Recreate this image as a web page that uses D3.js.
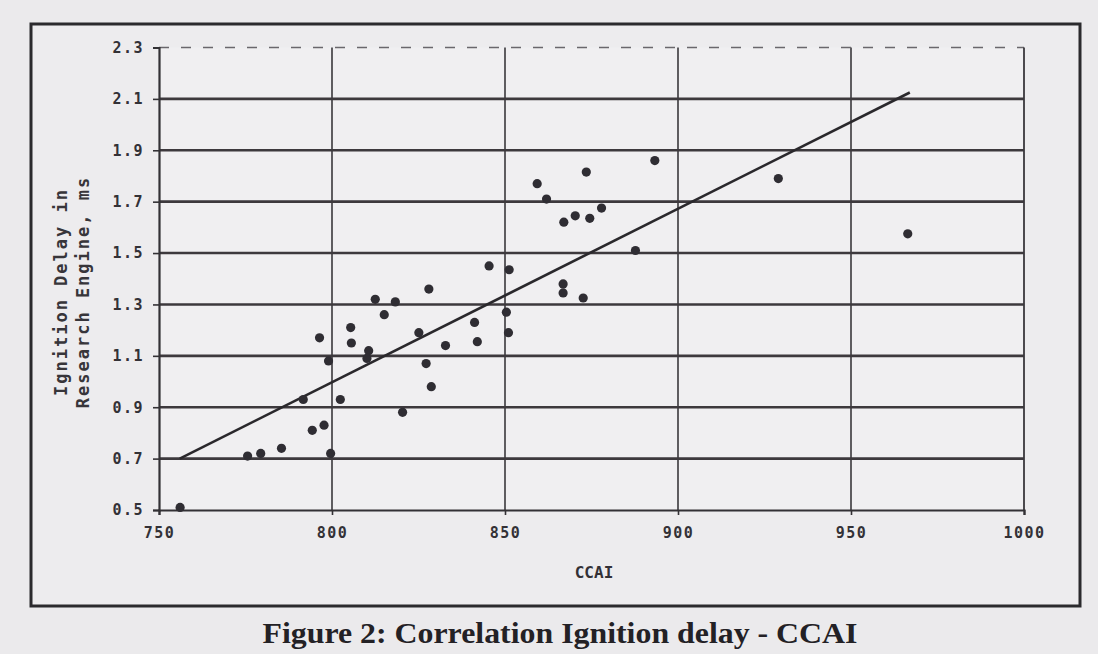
<!DOCTYPE html>
<html>
<head>
<meta charset="utf-8">
<script src="https://cdn.jsdelivr.net/npm/d3@7"></script>
<style>
  body { margin: 0; background: #ebeaec; }
  svg { display: block; }
</style>
</head>
<body>
<svg width="1098" height="654"></svg>
<script>
// data
var ccai  = [756.1, 775.6, 779.4, 785.4, 791.7, 794.3, 796.4, 797.7, 799.0, 799.6,
             802.4, 805.4, 805.6, 810.6, 810.1, 812.5, 815.1, 818.3, 820.4, 825.1,
             827.2, 828.0, 828.7, 832.8, 841.2, 842.0, 845.4, 850.4, 851.0, 851.2,
             859.3, 862.0, 866.8, 866.8, 867.0, 870.3, 872.6, 873.5, 874.5, 877.9,
             887.7, 893.3, 929.0, 966.4];
var delay = [0.51, 0.71, 0.72, 0.74, 0.93, 0.81, 1.17, 0.83, 1.08, 0.72,
             0.93, 1.21, 1.15, 1.12, 1.09, 1.32, 1.26, 1.31, 0.88, 1.19,
             1.07, 1.36, 0.98, 1.14, 1.23, 1.155, 1.45, 1.27, 1.19, 1.435,
             1.77, 1.71, 1.38, 1.345, 1.62, 1.645, 1.325, 1.815, 1.635, 1.675,
             1.51, 1.86, 1.79, 1.575];
var fitX = [756, 967];
var fitY = [0.70, 2.125];
var xTicks = [750, 800, 850, 900, 950, 1000];
var yTicks = [0.5, 0.7, 0.9, 1.1, 1.3, 1.5, 1.7, 1.9, 2.1, 2.3];

var svg = d3.select("svg");
var plotL = 159, plotR = 1024, plotT = 47.5, plotB = 510;

var x = d3.scaleLinear().domain([750, 1000]).range([plotL, plotR]);
var y = d3.scaleLinear().domain([0.5, 2.3]).range([plotB, plotT]);

// outer frame
svg.append("rect")
  .attr("x", 31).attr("y", 24).attr("width", 1049).attr("height", 582)
  .attr("fill", "#edecee").attr("stroke", "#2b2a2d").attr("stroke-width", 3);

// plot background
svg.append("rect")
  .attr("x", plotL).attr("y", plotT).attr("width", plotR - plotL).attr("height", plotB - plotT)
  .attr("fill", "#f0eff1");

// vertical grid
svg.append("g")
  .selectAll("line")
  .data(xTicks.slice(1, -1))
  .enter().append("line")
    .attr("x1", function(d) { return x(d); }).attr("x2", function(d) { return x(d); })
    .attr("y1", plotT).attr("y2", plotB)
    .attr("stroke", "#3a383c").attr("stroke-width", 1.6);

// horizontal grid
svg.append("g")
  .selectAll("line")
  .data(yTicks.slice(1, -1))
  .enter().append("line")
    .attr("x1", plotL).attr("x2", plotR)
    .attr("y1", function(d) { return y(d); }).attr("y2", function(d) { return y(d); })
    .attr("stroke", "#3d393d").attr("stroke-width", 2.6);

// faint broken top line
svg.append("line")
  .attr("x1", plotL).attr("x2", plotR).attr("y1", y(2.3)).attr("y2", y(2.3))
  .attr("stroke", "#6a676c").attr("stroke-width", 1.6).attr("stroke-dasharray", "10,12");

// right border
svg.append("line")
  .attr("x1", plotR).attr("x2", plotR).attr("y1", plotT).attr("y2", plotB)
  .attr("stroke", "#3a383c").attr("stroke-width", 1.8);

// axes
var xAxis = svg.append("g")
  .attr("transform", "translate(0," + plotB + ")")
  .call(d3.axisBottom(x).tickValues(xTicks).tickSize(5).tickPadding(12).tickFormat(d3.format("d")));
var yAxis = svg.append("g")
  .attr("transform", "translate(" + plotL + ",0)")
  .call(d3.axisLeft(y).tickValues(yTicks).tickSize(6).tickPadding(9).tickFormat(d3.format(".1f")));

[xAxis, yAxis].forEach(function(g) {
  g.select(".domain").attr("stroke", "#333135").attr("stroke-width", 2.2);
  g.selectAll(".tick line").attr("stroke", "#333135").attr("stroke-width", 1.6);
  g.selectAll(".tick text")
    .attr("fill", "#333136")
    .style("font-family", "'DejaVu Sans Mono', 'Liberation Mono', monospace")
    .style("font-weight", "bold")
    .style("font-size", "15px")
    .style("letter-spacing", "1.5px");
});

// regression line
svg.append("line")
  .attr("x1", x(fitX[0])).attr("y1", y(fitY[0]))
  .attr("x2", x(fitX[1])).attr("y2", y(fitY[1]))
  .attr("stroke", "#2a282c").attr("stroke-width", 2.6);

// points
svg.append("g")
  .selectAll("circle")
  .data(ccai)
  .enter().append("circle")
    .attr("cx", function(d) { return x(d); })
    .attr("cy", function(d, i) { return y(delay[i]); })
    .attr("r", 4.6)
    .attr("fill", "#2f2d33");

// axis titles
svg.append("text")
  .attr("x", 594).attr("y", 578)
  .attr("text-anchor", "middle")
  .style("font-family", "'DejaVu Sans Mono', monospace")
  .style("font-weight", "bold").style("font-size", "16px")
  .attr("fill", "#333136")
  .text("CCAI");

var yTitle = svg.append("text")
  .attr("transform", "translate(0,292) rotate(-90)")
  .attr("text-anchor", "middle")
  .style("font-family", "'DejaVu Sans Mono', monospace")
  .style("font-weight", "bold").style("font-size", "17px")
  .style("letter-spacing", "2px")
  .attr("fill", "#37353a");
yTitle.append("tspan").attr("x", 0).attr("y", 67).text("Ignition Delay in");
yTitle.append("tspan").attr("x", 0).attr("y", 89).text("Research Engine, ms");

// caption
svg.append("text")
  .attr("x", 560).attr("y", 643)
  .attr("text-anchor", "middle")
  .attr("textLength", 595).attr("lengthAdjust", "spacingAndGlyphs")
  .style("font-family", "'Liberation Serif', serif")
  .style("font-weight", "bold").style("font-size", "29px")
  .attr("fill", "#232125")
  .text("Figure 2: Correlation Ignition delay - CCAI");
</script>
</body>
</html>
